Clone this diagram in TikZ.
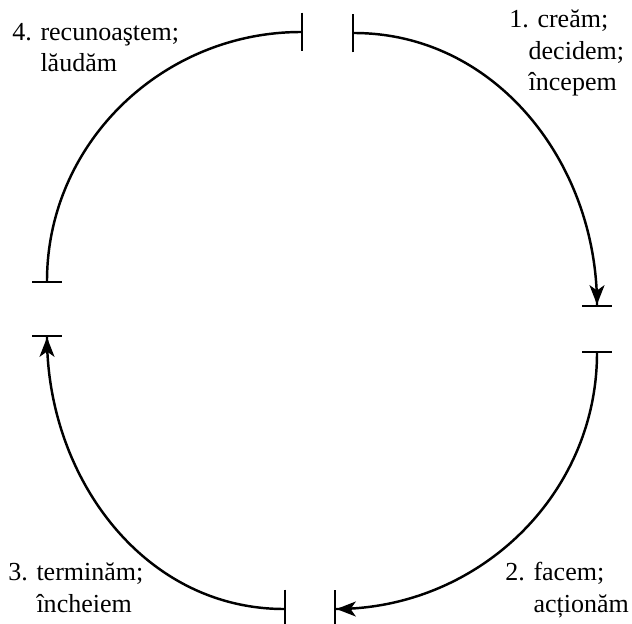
\documentclass[tikz,border=0pt]{standalone}
\usepackage{fontspec}
\setmainfont{Liberation Serif}
\usetikzlibrary{arrows.meta}
\tikzset{cyc/.style={line width=1.4pt}}
\tikzset{lbl/.style={anchor=base west, inner sep=0pt, align=left, font=\fontsize{14.8}{18.2}\selectfont}}
\tikzset{hd/.tip={Stealth[length=11pt,width=8.5pt,inset=3pt]}}

\begin{document}
\begin{tikzpicture}[x=0.02cm, y=0.02cm]
        \useasboundingbox (0,0) rectangle (632,623);

        % ends of the four arcs
        \coordinate (t1) at (303,591);
        \coordinate (t2) at (352,590);
        \coordinate (r1) at (597,316);
        \coordinate (r2) at (597,272);
        \coordinate (b1) at (334,14);
        \coordinate (b2) at (286,14);
        \coordinate (l1) at (47,288);
        \coordinate (l2) at (47,340);

        % labels (base = last line)
        \node[lbl] (lab1) at (509,532) {1. creăm;\\\hspace*{11pt}decidem;\\\hspace*{11pt}începem};
        \node[lbl] (lab2) at (505,11) {2. facem;\\\hphantom{2. }acționăm};
        \node[lbl] (lab3) at (8,11) {3. terminăm;\\\hphantom{3. }încheiem};
        \node[lbl] (lab4) at (12,551) {4. recunoaştem;\\\hphantom{4. }lăudăm};

        \draw[cyc, {Bar[width=22pt]}-{hd[] Bar[width=17pt]}] (t2) to[out=0,in=90] (r1);
        \draw[cyc, {Bar[width=17pt]}-{hd[] Bar[width=22pt]}] (r2) to[out=-90,in=0] (b1);
        \draw[cyc, {Bar[width=22pt]}-{hd[] Bar[width=17pt]}] (b2) to[out=180,in=-90] (l1);
        \draw[cyc, {Bar[width=17pt]}-{Bar[width=22pt]}] (l2) to[out=90,in=180] (t1);
    \end{tikzpicture}
\end{document}
